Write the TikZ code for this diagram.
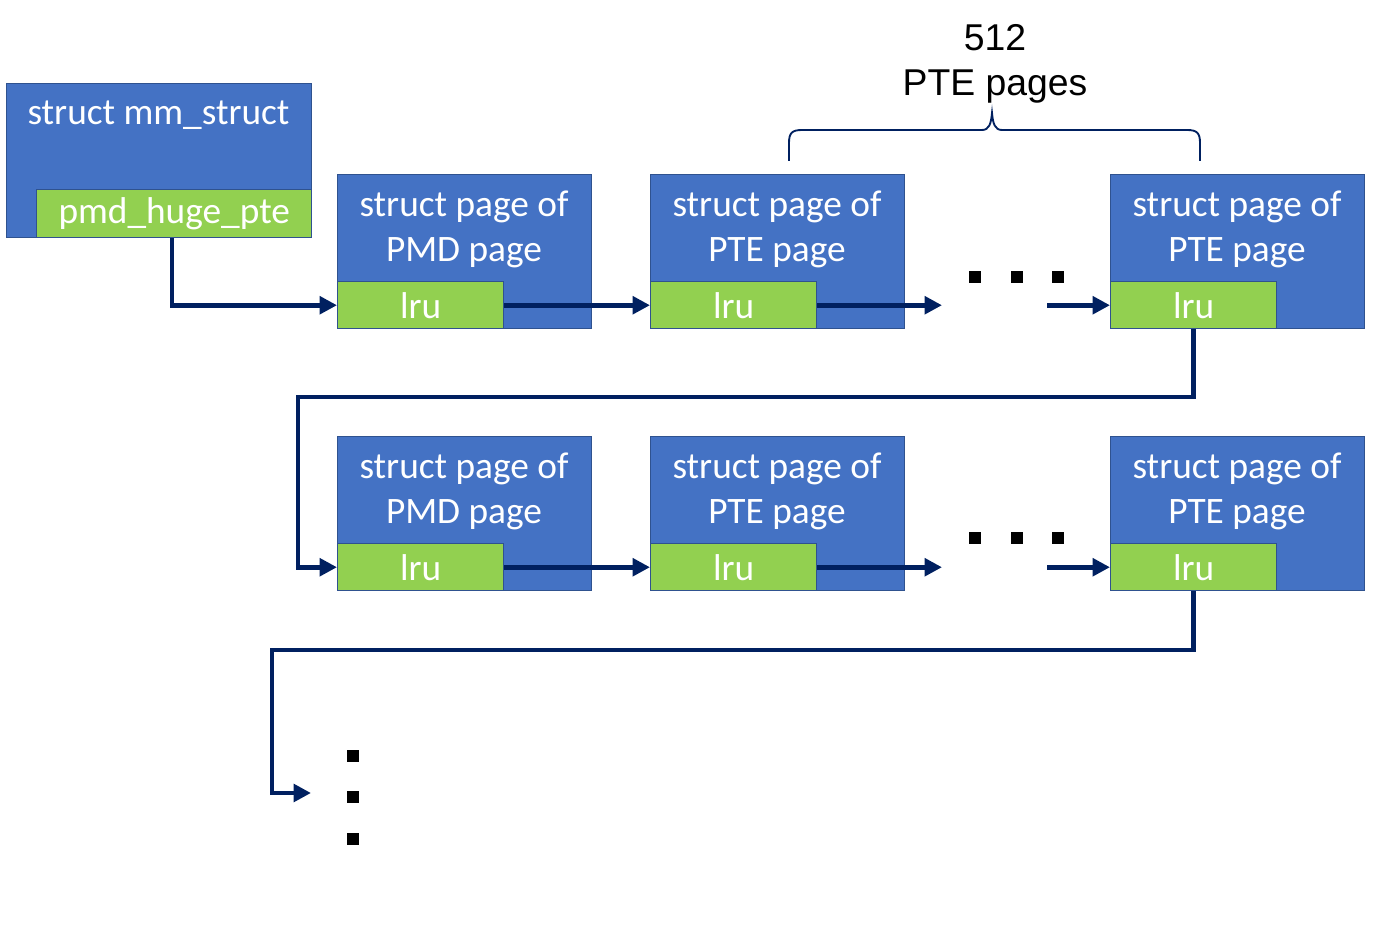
\documentclass[tikz,border=0pt]{standalone}
\usepackage{fontspec}
\setmainfont{Carlito}
\newfontfamily\arialfont{Liberation Sans}
\usetikzlibrary{arrows.meta,positioning}
\definecolor{boxblue}{HTML}{4472C4}
\definecolor{boxedge}{HTML}{2F528F}
\definecolor{boxgreen}{HTML}{92D050}
\definecolor{navy}{HTML}{002060}
\tikzset{
  bigbox/.style={draw=boxedge, fill=boxblue, line width=1.1pt, inner sep=0pt,
    minimum width=190.5pt, minimum height=115.5pt, anchor=north west},
  lrubox/.style={draw=boxedge, fill=boxgreen, line width=1.1pt, inner sep=0pt,
    minimum width=124.5pt, minimum height=35.25pt, anchor=south west,
    text=white, font=\fontsize{28}{34}\selectfont},
  boxtext/.style={text=white, align=center, inner sep=0pt, font=\fontsize{28}{34}\selectfont},
  conn/.style={draw=navy, line width=3.5pt, -{Triangle[length=13pt,width=13pt]}},
  dotsq/.style={fill=black, draw=none, minimum size=9pt, inner sep=0pt},
  bracestyle/.style={draw=navy, line width=1.4pt},
}
\begin{document}
\begin{tikzpicture}[x=0.75pt,y=-0.75pt]
\useasboundingbox (0,0) rectangle (1375,937);
% mm_struct
\node[bigbox, minimum width=228.75pt] (mm) at (6,83) {};
\node[boxtext] (mmt) at (158.5,115) {struct mm\_struct};
\node[lrubox, minimum width=206.25pt, minimum height=36pt, anchor=south east] (ph) at (mm.south east) {pmd\_huge\_pte};
% row 1
\node[bigbox] (b1) at (337,174) {};
\node[boxtext] (t1) at (464,229.5) {struct page of\\PMD page};
\node[lrubox] (l1) at (b1.south west) {lru};
\node[bigbox] (b2) at (650,174) {};
\node[boxtext] (t2) at (777,229.5) {struct page of\\PTE page};
\node[lrubox] (l2) at (b2.south west) {lru};
\node[bigbox] (b3) at (1110,174) {};
\node[boxtext] (t3) at (1237,229.5) {struct page of\\PTE page};
\node[lrubox] (l3) at (b3.south west) {lru};
% row 2
\node[bigbox] (b4) at (337,436) {};
\node[boxtext] (t4) at (464,491.5) {struct page of\\PMD page};
\node[lrubox] (l4) at (b4.south west) {lru};
\node[bigbox] (b5) at (650,436) {};
\node[boxtext] (t5) at (777,491.5) {struct page of\\PTE page};
\node[lrubox] (l5) at (b5.south west) {lru};
\node[bigbox] (b6) at (1110,436) {};
\node[boxtext] (t6) at (1237,491.5) {struct page of\\PTE page};
\node[lrubox] (l6) at (b6.south west) {lru};
% dots
\node[dotsq] (d11) at (975,277) {};
\node[dotsq] (d12) at (1017,277) {};
\node[dotsq] (d13) at (1058,277) {};
\node[dotsq] (d21) at (975,538) {};
\node[dotsq] (d22) at (1017,538) {};
\node[dotsq] (d23) at (1058,538) {};
\node[dotsq] (v1) at (353,756) {};
\node[dotsq] (v2) at (353,797) {};
\node[dotsq] (v3) at (353,839) {};
% coordinates
\coordinate (e1) at (942,0);
\coordinate (s1) at (1047,0);
\coordinate (c1) at (298,397);
\coordinate (c2) at (272,650);
\coordinate (e3) at (311,793);
% connectors
\draw[conn] (ph.south -| 172,0) |- (l1.west);
\draw[conn] (l1.east) -- (l2.west);
\draw[conn] (l2.east) -- (l2.east -| e1);
\draw[conn] (l3.west -| s1) -- (l3.west);
\draw[conn] (l3.south) |- (c1) |- (l4.west);
\draw[conn] (l4.east) -- (l5.west);
\draw[conn] (l5.east) -- (l5.east -| e1);
\draw[conn] (l6.west -| s1) -- (l6.west);
\draw[conn] (l6.south) |- (c2) |- (e3);
% brace
\draw[bracestyle] (789,161) -- (789,143) .. controls (789,133) and (792,130) .. (802,130)
  -- (982,130) .. controls (989,130) and (991,124) .. (992,113)
  .. controls (993,124) and (995,130) .. (1002,130)
  -- (1187,130) .. controls (1197,130) and (1200,133) .. (1200,143) -- (1200,161);
\node[align=center, inner sep=0pt, font=\arialfont\fontsize{28}{34}\selectfont] (lbl) at (995,64) {512\\PTE pages};
\end{tikzpicture}
\end{document}
